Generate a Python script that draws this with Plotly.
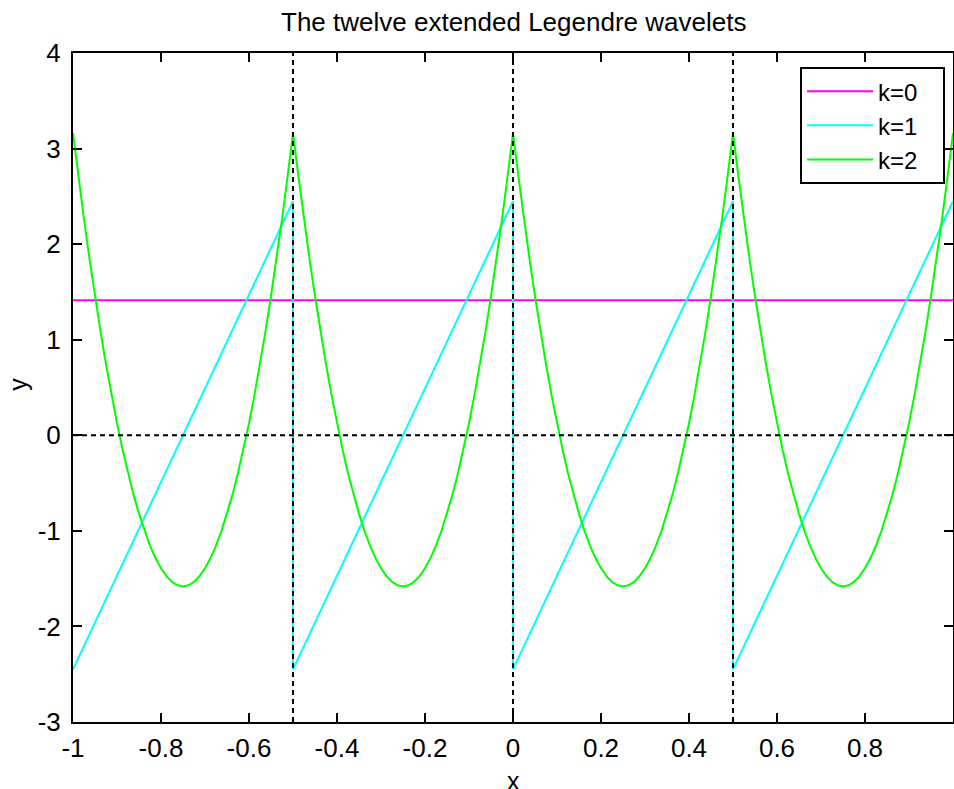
import plotly.graph_objects as go

# ---------------- data ----------------
title_text = "The twelve extended Legendre wavelets"
series_names = ["k=0", "k=1", "k=2"]

# k=0 : constant level
k0_x = [-1.0, 1.0]
k0_y = [1.414, 1.414]

# k=1 : saw-tooth ramps
k1_x = [-1.0, -0.5, -0.5, 0.0, 0.0, 0.5, 0.5, 1.0]
k1_y = [-2.449, 2.449, -2.449, 2.449, -2.449, 2.449, -2.449, 2.449]

# k=2 : parabolic arches
k2_x = [
    -1.0, -0.9875, -0.975, -0.9625, -0.95, -0.9375, -0.925, -0.9125, -0.9, -0.8875,
    -0.875, -0.8625, -0.85, -0.8375, -0.825, -0.8125, -0.8, -0.7875, -0.775, -0.7625,
    -0.75, -0.7375, -0.725, -0.7125, -0.7, -0.6875, -0.675, -0.6625, -0.65, -0.6375,
    -0.625, -0.6125, -0.6, -0.5875, -0.575, -0.5625, -0.55, -0.5375, -0.525, -0.5125,
    -0.5, -0.4875, -0.475, -0.4625, -0.45, -0.4375, -0.425, -0.4125, -0.4, -0.3875,
    -0.375, -0.3625, -0.35, -0.3375, -0.325, -0.3125, -0.3, -0.2875, -0.275, -0.2625,
    -0.25, -0.2375, -0.225, -0.2125, -0.2, -0.1875, -0.175, -0.1625, -0.15, -0.1375,
    -0.125, -0.1125, -0.1, -0.0875, -0.075, -0.0625, -0.05, -0.0375, -0.025, -0.0125,
    0.0, 0.0125, 0.025, 0.0375, 0.05, 0.0625, 0.075, 0.0875, 0.1, 0.1125,
    0.125, 0.1375, 0.15, 0.1625, 0.175, 0.1875, 0.2, 0.2125, 0.225, 0.2375,
    0.25, 0.2625, 0.275, 0.2875, 0.3, 0.3125, 0.325, 0.3375, 0.35, 0.3625,
    0.375, 0.3875, 0.4, 0.4125, 0.425, 0.4375, 0.45, 0.4625, 0.475, 0.4875,
    0.5, 0.5125, 0.525, 0.5375, 0.55, 0.5625, 0.575, 0.5875, 0.6, 0.6125,
    0.625, 0.6375, 0.65, 0.6625, 0.675, 0.6875, 0.7, 0.7125, 0.725, 0.7375,
    0.75, 0.7625, 0.775, 0.7875, 0.8, 0.8125, 0.825, 0.8375, 0.85, 0.8625,
    0.875, 0.8875, 0.9, 0.9125, 0.925, 0.9375, 0.95, 0.9625, 0.975, 0.9875,
    1.0,
]
k2_y = [
    3.162, 2.700, 2.261, 1.846, 1.455, 1.087, 0.743, 0.423, 0.126, -0.146,
    -0.395, -0.621, -0.822, -1.000, -1.154, -1.285, -1.391, -1.474, -1.534, -1.569,
    -1.581, -1.569, -1.534, -1.474, -1.391, -1.285, -1.154, -1.000, -0.822, -0.621,
    -0.395, -0.146, 0.126, 0.423, 0.743, 1.087, 1.455, 1.846, 2.261, 2.700,
    3.162, 2.700, 2.261, 1.846, 1.455, 1.087, 0.743, 0.423, 0.126, -0.146,
    -0.395, -0.621, -0.822, -1.000, -1.154, -1.285, -1.391, -1.474, -1.534, -1.569,
    -1.581, -1.569, -1.534, -1.474, -1.391, -1.285, -1.154, -1.000, -0.822, -0.621,
    -0.395, -0.146, 0.126, 0.423, 0.743, 1.087, 1.455, 1.846, 2.261, 2.700,
    3.162, 2.700, 2.261, 1.846, 1.455, 1.087, 0.743, 0.423, 0.126, -0.146,
    -0.395, -0.621, -0.822, -1.000, -1.154, -1.285, -1.391, -1.474, -1.534, -1.569,
    -1.581, -1.569, -1.534, -1.474, -1.391, -1.285, -1.154, -1.000, -0.822, -0.621,
    -0.395, -0.146, 0.126, 0.423, 0.743, 1.087, 1.455, 1.846, 2.261, 2.700,
    3.162, 2.700, 2.261, 1.846, 1.455, 1.087, 0.743, 0.423, 0.126, -0.146,
    -0.395, -0.621, -0.822, -1.000, -1.154, -1.285, -1.391, -1.474, -1.534, -1.569,
    -1.581, -1.569, -1.534, -1.474, -1.391, -1.285, -1.154, -1.000, -0.822, -0.621,
    -0.395, -0.146, 0.126, 0.423, 0.743, 1.087, 1.455, 1.846, 2.261, 2.700,
    3.162,
]

# dashed reference lines
ref_vlines = [-0.5, 0.0, 0.5]
ref_hlines = [0.0]

# ticks
x_tickvals = [-1.0, -0.8, -0.6, -0.4, -0.2, 0.0, 0.2, 0.4, 0.6, 0.8, 1.0]
x_ticktext = ["-1", "-0.8", "-0.6", "-0.4", "-0.2", "0", "0.2", "0.4", "0.6", "0.8", "1"]
y_tickvals = [-3, -2, -1, 0, 1, 2, 3, 4]
y_ticktext = ["-3", "-2", "-1", "0", "1", "2", "3", "4"]
x_range = [-1.0, 1.0]
y_range = [-3.0, 4.0]

# ---------------- figure ----------------
FONT = "Liberation Sans, Arial, sans-serif"
NB = "\u00a0"
fig = go.Figure()
fig.add_trace(go.Scatter(x=k0_x, y=k0_y, mode="lines", name=series_names[0] + NB * 3,
                         line=dict(color="#ff00ff", width=2)))
fig.add_trace(go.Scatter(x=k1_x, y=k1_y, mode="lines", name=series_names[1] + NB * 3,
                         line=dict(color="#00ffff", width=2)))
fig.add_trace(go.Scatter(x=k2_x, y=k2_y, mode="lines", name=series_names[2] + NB * 3,
                         line=dict(color="#00ff00", width=2)))

for xv in ref_vlines:
    fig.add_shape(type="line", xref="x", yref="y", x0=xv, x1=xv,
                  y0=y_range[0], y1=y_range[1], layer="above",
                  line=dict(color="black", width=2, dash="5px,4px"))
for yv in ref_hlines:
    fig.add_shape(type="line", xref="x", yref="y", x0=x_range[0], x1=x_range[1],
                  y0=yv, y1=yv, layer="above",
                  line=dict(color="black", width=2, dash="5px,4px"))

axis_common = dict(showgrid=False, zeroline=False, showline=True, linecolor="black",
                   linewidth=2, mirror="ticks", ticks="inside", ticklen=9,
                   tickwidth=2, tickcolor="black", automargin=False,
                   tickfont=dict(family=FONT, size=26, color="black"))

fig.update_xaxes(range=x_range, tickvals=x_tickvals, ticktext=x_ticktext,
                 ticklabelstandoff=2, **axis_common)
fig.update_yaxes(range=y_range, tickvals=y_tickvals, ticktext=y_ticktext,
                 ticklabelstandoff=5, **axis_common)

fig.add_annotation(text=title_text, xref="paper", yref="paper", x=0.5, y=1.046,
                   xanchor="center", yanchor="middle", showarrow=False,
                   font=dict(family=FONT, size=26, color="black"))
fig.add_annotation(text="x", xref="paper", yref="paper", x=0.5, y=-0.088,
                   xanchor="center", yanchor="middle", showarrow=False,
                   font=dict(family=FONT, size=25, color="black"))
fig.add_annotation(text="y", xref="paper", yref="paper", x=-0.0625, y=0.504,
                   xanchor="center", yanchor="middle", showarrow=False, textangle=-90,
                   font=dict(family=FONT, size=25, color="black"))

fig.update_layout(
    width=954, height=789,
    margin=dict(l=73, r=1, t=53, b=67, autoexpand=False),
    paper_bgcolor="white", plot_bgcolor="white",
    showlegend=True,
    hovermode=False,
    legend=dict(x=0.991, y=0.979, xanchor="right", yanchor="top",
                bgcolor="white", bordercolor="black", borderwidth=2,
                font=dict(family=FONT, size=24, color="black"),
                itemwidth=66, tracegroupgap=0),
)

# remove the default 8px page margin so the figure fills the window exactly
fig.write_html(
    "out.html",
    config={"displayModeBar": False},
    post_script="document.body.style.margin='0';document.body.style.overflow='hidden';",
)
